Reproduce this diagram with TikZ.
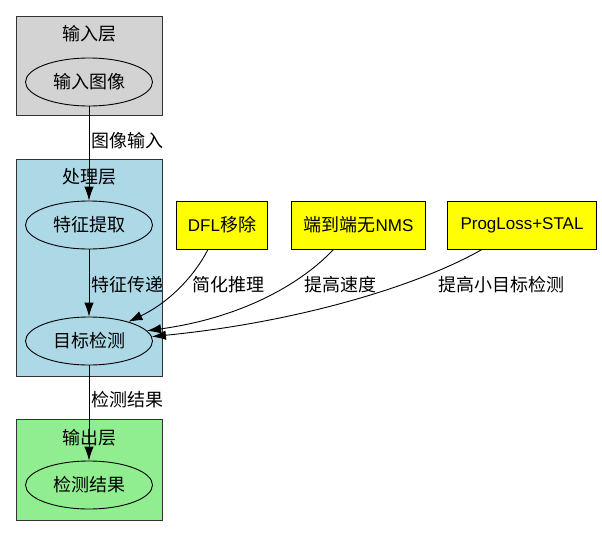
\documentclass[tikz,border=0pt]{standalone}
\usepackage{fontspec}
\setmainfont{Liberation Sans}
\newfontfamily\cjk{Noto Sans CJK SC}
\usetikzlibrary{shapes.geometric,arrows.meta,calc}
\definecolor{lgray}{HTML}{D3D3D3}
\definecolor{lblue}{HTML}{ADD8E6}
\definecolor{lgreen}{HTML}{90EE90}
\definecolor{ylw}{HTML}{FFFF00}
\newcommand\zh[1]{{\cjk\fontsize{18}{20}\selectfont #1}}
\begin{document}
\begin{tikzpicture}[x=1pt,y=-1pt,
  cluster/.style={draw=black!80,line width=1pt},
  ell/.style={ellipse,draw,line width=0.9pt,minimum width=127pt,minimum height=48pt,inner sep=0pt},
  ybox/.style={rectangle,draw,line width=0.9pt,fill=ylw,minimum height=48pt,inner sep=0pt},
  lbl/.style={inner sep=0pt},
  edge/.style={draw,line width=0.9pt,-{Latex[length=14pt,width=9.5pt]}},
  font=\fontsize{17}{20}\selectfont]
\useasboundingbox[fill=white] (0,0) rectangle (602,536);
% clusters
\draw[cluster,fill=lgray] (16,16) rectangle (162,115);
\draw[cluster,fill=lblue] (16,159) rectangle (162,376);
\draw[cluster,fill=lgreen] (16,419) rectangle (162,520);
\node[lbl] (t1) at (89,34) {\zh{输入层}};
\node[lbl] (t2) at (89,177) {\zh{处理层}};
\node[lbl] (t3) at (89,438) {\zh{输出层}};
% nodes
\node[ell] (in) at (89,82) {\zh{输入图像}};
\node[ell] (feat) at (89,225) {\zh{特征提取}};
\node[ell] (det) at (89,341) {\zh{目标检测}};
\node[ell] (out) at (89,485) {\zh{检测结果}};
\node[ybox,minimum width=91pt] (dfl) at (222,225) {DFL\zh{移除}};
\node[ybox,minimum width=134pt] (nms) at (358.5,225) {\zh{端到端无}NMS};
\node[ybox,minimum width=149pt] (prog) at (522,225) {ProgLoss+STAL};
% edges
\draw[edge] (in) -- (feat);
\draw[edge] (feat) -- (det);
\draw[edge] (det) -- (out);
\draw[edge] ($(dfl.south)+(-14,0)$) .. controls (195,275) and (170,302) .. (det.26);
\draw[edge] ($(nms.south)+(-25,0)$) .. controls (300,285) and (240,318) .. (det.10);
\draw[edge] ($(prog.south)+(-40,0)$) .. controls (420,285) and (300,322) .. (det.4);
% edge labels
\node[lbl] (l1) at (127,141) {\zh{图像输入}};
\node[lbl] (l2) at (127,285) {\zh{特征传递}};
\node[lbl] (l3) at (228,285) {\zh{简化推理}};
\node[lbl] (l4) at (340,285) {\zh{提高速度}};
\node[lbl] (l5) at (501,285) {\zh{提高小目标检测}};
\node[lbl] (l6) at (127,400) {\zh{检测结果}};
\end{tikzpicture}
\end{document}
